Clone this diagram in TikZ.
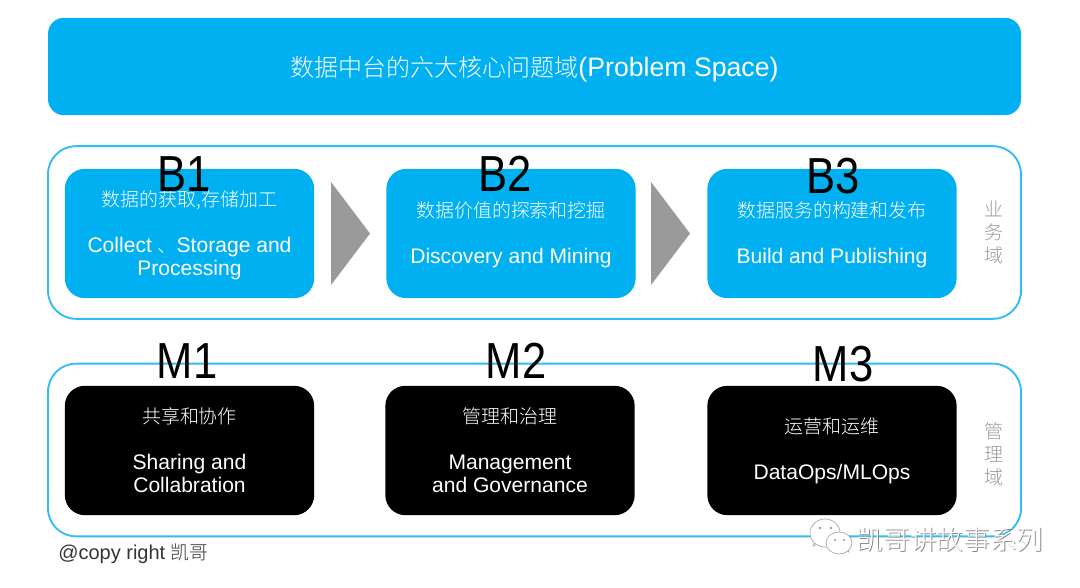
\documentclass[tikz,border=0pt]{standalone}
\usepackage{fontspec}
\setmainfont{Liberation Sans}
\newfontfamily\cjk{Noto Sans CJK SC Light}
\definecolor{topicblue}{HTML}{00B0F0}
\definecolor{ringblue}{HTML}{2FBDF3}
\definecolor{sidegray}{HTML}{9A9A9A}
\tikzset{
  titlebox/.style={rectangle,fill=topicblue,rounded corners=12pt,minimum width=729.75pt,minimum height=73pt,inner sep=0pt,text=white,align=center,font=\fontsize{20}{22}\selectfont},
  ringbox/.style={rectangle,draw=ringblue,line width=1.4pt,rounded corners=21pt,minimum width=729.75pt,minimum height=129.5pt,inner sep=0pt},
  topicbox/.style={rectangle,rounded corners=15pt,minimum width=187pt,minimum height=97pt,inner sep=0pt,align=center,text=white,font=\fontsize{15.8}{17.25}\selectfont},
  bizbox/.style={topicbox,fill=topicblue},
  mgmtbox/.style={topicbox,fill=black},
  tagtext/.style={text=black,inner sep=0pt,xscale=.86,transform shape,font=\fontsize{38}{40}\selectfont},
  sidetext/.style={text=sidegray,align=center,inner sep=0pt,font=\cjk\fontsize{14.2}{17.25}\selectfont},
  arrowshape/.style={fill=sidegray}
}
\newcommand{\zh}[1]{{\cjk\fontsize{14.2}{17.25}\selectfont #1}}
\newcommand{\lead}{\rule{0pt}{14.5pt}}
\begin{document}
\begin{tikzpicture}[x=.75pt,y=-.75pt]
\useasboundingbox (0,0) rectangle (1080,588);
\fill[white] (0,0) rectangle (1080,588);

\node[titlebox] (title) at (534.5,66.5) {\rule{0pt}{19pt}{\cjk\fontsize{18}{22}\selectfont 数据中台的六大核心问题域}(Problem Space)};

\node[ringbox] (bizring) at (534.5,232.5) {};
\node[ringbox] (mgmtring) at (534.5,450) {};

% business row
\node[bizbox] (b1) at (189.5,233.5) {\lead\zh{数据的获取,存储加工}\\[\baselineskip]Collect \zh{、}Storage and\\Processing};
\node[bizbox] (b2) at (511,233.5) {\lead\zh{数据价值的探索和挖掘}\\[\baselineskip]Discovery and Mining};
\node[bizbox] (b3) at (832,233.5) {\lead\zh{数据服务的构建和发布}\\[\baselineskip]Build and Publishing};
\fill[arrowshape] (331,182) -- (370,233.5) -- (331,285) -- cycle;
\fill[arrowshape] (651,182) -- (690,233.5) -- (651,285) -- cycle;

% management row
\node[mgmtbox] (m1) at (189.5,450.5) {\zh{共享和协作}\\[\baselineskip]Sharing and\\Collabration};
\node[mgmtbox] (m2) at (510,450.5) {\zh{管理和治理}\\[\baselineskip]Management\\and Governance};
\node[mgmtbox] (m3) at (832,450.5) {\zh{运营和运维}\\[\baselineskip]DataOps/MLOps};

\node[tagtext] (b1tag) at (184,174) {B1};
\node[tagtext] (b2tag) at (505,174) {B2};
\node[tagtext] (b3tag) at (833,176) {B3};
\node[tagtext] (m1tag) at (187,361) {M1};
\node[tagtext] (m2tag) at (516,361) {M2};
\node[tagtext] (m3tag) at (843,364) {M3};

\node[sidetext] (bizside) at (994,232) {业\\务\\域};
\node[sidetext] (mgmtside) at (994,454) {管\\理\\域};

\node[anchor=west,inner sep=0pt,text=black!80,font=\fontsize{15}{17}\selectfont] (copyright) at (58,554) {@copy right \zh{凯哥}};

% watermark
\begin{scope}[draw=black!35,fill=white,line width=.5pt]
\filldraw (813,546) -- (816,540) -- (822,542) -- cycle;
\filldraw (825,533) ellipse (15 and 14);
\filldraw (849,552) -- (846,547) -- (842,551) -- cycle;
\filldraw (839,543) ellipse (13 and 11);
\fill[black!40] (820,528) circle (1.3) (831,528) circle (1.3) (835,540) circle (1.2) (844,540) circle (1.2);
\end{scope}
\node[text=black!45,inner sep=0pt,font=\cjk\fontsize{20}{22}\selectfont] (markshadow) at (951,540.5) {凯哥讲故事系列};
\node[text=white,inner sep=0pt,font=\cjk\fontsize{20}{22}\selectfont] (mark) at (950,539.5) {凯哥讲故事系列};
\end{tikzpicture}
\end{document}
